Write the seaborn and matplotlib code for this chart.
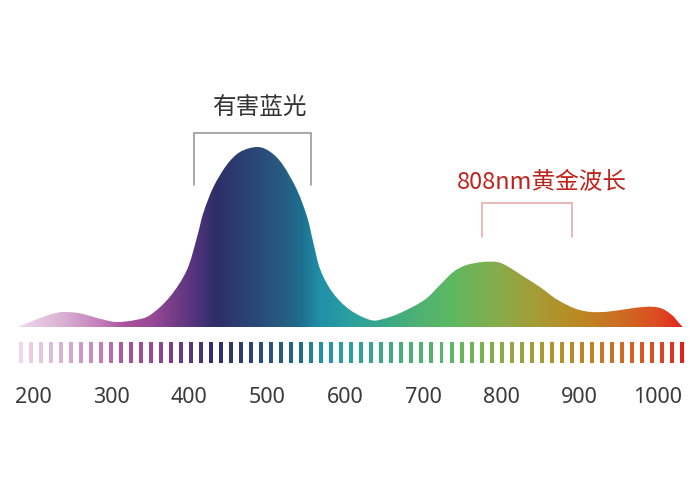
import numpy as np
import matplotlib
matplotlib.use("Agg")
import matplotlib.pyplot as plt
import seaborn as sns
from matplotlib.colors import LinearSegmentedColormap, to_rgb
from matplotlib.patches import PathPatch
from matplotlib.path import Path

# ---------------- data ----------------
wavelength = [181, 196, 209, 224, 238, 258, 273, 292, 308, 331, 350, 375, 397,
              410, 418, 431, 448, 465, 487, 504, 520, 538, 551, 559, 568, 584,
              606, 632, 648, 670, 701, 721, 738, 755, 776, 794, 807, 827, 849,
              872, 900, 930, 981, 1003, 1018, 1026, 1032]
intensity = [0, 5, 9, 13, 15, 14, 11, 7, 5, 7, 12, 30, 57,
             90, 114, 140, 162, 175, 180, 175, 162, 137, 110, 84, 57, 34,
             17, 7, 8, 14, 27, 42, 55, 62, 65, 65, 61, 51, 40,
             27, 17, 15, 20, 19, 12, 5, 0]

tick_values = [200, 300, 400, 500, 600, 700, 800, 900, 1000]
tick_labels = ["200", "300", "400", "500", "600", "700", "800", "900", "1000"]

# spectrum colour stops (wavelength, colour)
stop_wl = [181, 238, 286, 318, 350, 375, 401, 433, 478, 516, 542, 567, 606,
           648, 696, 734, 798, 849, 900, 951, 1003, 1034]
stop_col = ["#efd6eb", "#d9b1d3", "#c27cba", "#a8509c", "#9a4a98", "#7a3e8a",
            "#5a3580", "#2e2e68", "#2a4475", "#275a80", "#1d6e8e", "#2090a8",
            "#2aa0a0", "#3aa888", "#4fb272", "#5cb862", "#88ac4a", "#a89a34",
            "#bc8822", "#cc6e22", "#dc4a22", "#e4201c"]

blue_light_range = [406, 556]
blue_light_label = "有害蓝光"
golden_range = [775, 890]
golden_label = "808nm黄金波长"

n_bars = 67
bar_first, bar_last = 184, 1031

# ---------------- style ----------------
sns.set_theme(style="white")
plt.rcParams["font.family"] = ["Noto Sans CJK SC", "DejaVu Sans"]

fig = plt.figure(figsize=(7, 5), dpi=100)
ax = fig.add_axes([0, 0, 1, 1])
ax.axis("off")

wl_min, wl_max = stop_wl[0], stop_wl[-1]
cmap = LinearSegmentedColormap.from_list(
    "spectrum",
    [((w - wl_min) / (wl_max - wl_min), to_rgb(c)) for w, c in zip(stop_wl, stop_col)])

# smooth outline through the read points (Catmull-Rom rendered as Bezier path)
pts = np.column_stack([wavelength, intensity]).astype(float)
ext = np.vstack([pts[0], pts, pts[-1]])
verts = [tuple(pts[0])]
codes = [Path.MOVETO]
for i in range(1, len(ext) - 2):
    p0, p1, p2, p3 = ext[i - 1], ext[i], ext[i + 1], ext[i + 2]
    c1 = p1 + (p2 - p0) / 6.0
    c2 = p2 - (p3 - p1) / 6.0
    c1[1] = max(c1[1], 0)
    c2[1] = max(c2[1], 0)
    verts += [tuple(c1), tuple(c2), tuple(p2)]
    codes += [Path.CURVE4] * 3
verts.append(tuple(pts[0]))
codes.append(Path.CLOSEPOLY)
outline = PathPatch(Path(verts, codes), facecolor="none", edgecolor="none",
                    transform=ax.transData)
ax.add_patch(outline)

grad = np.linspace(0, 1, 1024).reshape(1, -1)
im = ax.imshow(grad, extent=[wl_min, wl_max, 0, max(intensity) + 5],
               aspect="auto", cmap=cmap, origin="lower", interpolation="bilinear",
               zorder=2)
im.set_clip_path(outline)

# tick bars row
bar_x = np.linspace(bar_first, bar_last, n_bars)
bar_cols = sns.color_palette([cmap((b - wl_min) / (wl_max - wl_min)) for b in bar_x])
ax.bar(bar_x, 21, bottom=-36, width=5.1, color=bar_cols, linewidth=0, zorder=2)

# axis labels
for v, lab in zip(tick_values, tick_labels):
    ax.text(v, -76, lab, ha="center", va="baseline", fontsize=15.5,
            color="#3a3a3a", family=["Noto Sans", "DejaVu Sans"])

# harmful blue light bracket
l, r = blue_light_range
ax.plot([l, l, r, r], [142, 194, 194, 142], color="#9a9a9a", lw=1.2,
        solid_joinstyle="miter", zorder=3)
ax.text(490, 219, blue_light_label, ha="center", va="center",
        fontsize=17, color="#333333")

# golden wavelength bracket
l, r = golden_range
ax.plot([l, l, r, r], [90, 124, 124, 90], color="#e8acac", lw=1.2,
        solid_joinstyle="miter", zorder=3)
ax.text(851, 144, golden_label, ha="center", va="center",
        fontsize=17, color="#c0231b")

ax.set_xlim(157.7, 1054.0)
ax.set_ylim(-173, 327)

fig.savefig("out.png", dpi=100, facecolor="white")
